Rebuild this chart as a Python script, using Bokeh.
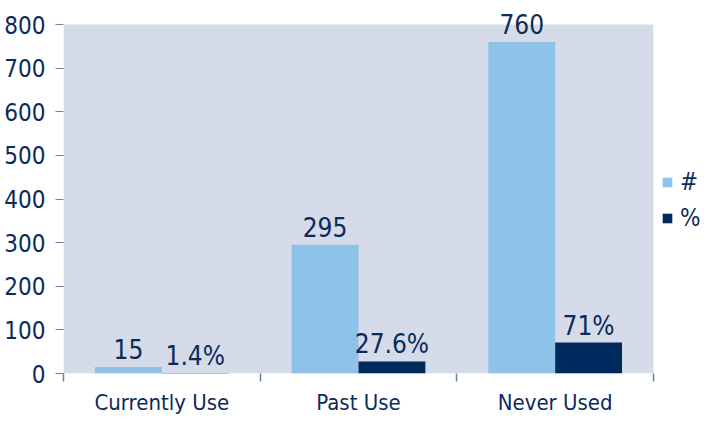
from bokeh.plotting import figure
from bokeh.models import (ColumnDataSource, LabelSet, Legend, LegendItem,
                          FixedTicker)
from bokeh.core.properties import value
from bokeh.embed import file_html
from bokeh.resources import INLINE

categories = ["Currently Use", "Past Use", "Never Used"]
counts = [15, 295, 760]
percents = [1.4, 27.6, 71]
count_labels = ["15", "295", "760"]
percent_labels = ["1.4%", "27.6%", "71%"]
series_names = ["#", "%"]
y_ticks = [0, 100, 200, 300, 400, 500, 600, 700, 800]

FONT = "DejaVu Sans Condensed"
TXT = "#0b2b5b"
LIGHT = "#8fc2e9"
DARK = "#002a5e"
BG = "#d6dbe9"
TICK = "#6a80a2"

n = len(categories)
centers = [i + 0.5 for i in range(n)]
bw = 0.34
y_max = y_ticks[-1]

# geometry: plot area 590 x 349 px, frame extends 16px above and 52px right of it
PA_W, PA_H = 590, 349
FR_W, FR_H = 642, 365
x_end = n * FR_W / PA_W
y_end = y_max * FR_H / PA_H

src_a = ColumnDataSource(dict(x=[c - bw / 2 for c in centers], y=counts, t=count_labels))
src_b = ColumnDataSource(dict(x=[c + bw / 2 for c in centers], y=percents, t=percent_labels))

p = figure(frame_width=FR_W, frame_height=FR_H, x_range=(0, x_end), y_range=(0, y_end),
           output_backend="svg", toolbar_location=None,
           min_border_left=63, min_border_top=8, min_border_right=0, min_border_bottom=0)
p.background_fill_color = "white"
p.border_fill_color = "white"
p.outline_line_color = None
p.grid.grid_line_color = None

p.quad(left=0, right=n, bottom=0, top=y_max, fill_color=BG, line_color=None)

ra = p.vbar(x="x", top="y", width=bw, source=src_a, fill_color=LIGHT, line_color=None)
rb = p.vbar(x="x", top="y", width=bw, source=src_b, fill_color=DARK, line_color=None)

for s in (src_a, src_b):
    p.add_layout(LabelSet(x="x", y="y", text="t", source=s, text_align="center",
                          text_baseline="alphabetic", y_offset=8, text_font=value(FONT),
                          text_font_size="26px", text_color=TXT))

# y axis
p.yaxis.ticker = FixedTicker(ticks=y_ticks, minor_ticks=[])
p.yaxis.axis_line_color = None
p.yaxis.major_tick_in = 0
p.yaxis.major_tick_out = 8
p.yaxis.major_tick_line_color = TICK
p.yaxis.minor_tick_line_color = None
p.yaxis.major_label_text_font = FONT
p.yaxis.major_label_text_font_size = "24px"
p.yaxis.major_label_text_color = TXT
p.yaxis.major_label_standoff = 10

# x axis
p.xaxis.ticker = FixedTicker(ticks=centers, minor_ticks=list(range(n + 1)))
p.xaxis.major_label_overrides = {c: name for c, name in zip(centers, categories)}
p.xaxis.axis_line_color = None
p.xaxis.major_tick_line_color = None
p.xaxis.major_tick_out = 0
p.xaxis.major_tick_in = 0
p.xaxis.minor_tick_in = 0
p.xaxis.minor_tick_out = 8
p.xaxis.minor_tick_line_color = TICK
p.xaxis.minor_tick_line_width = 1.5
p.xaxis.major_label_text_font = FONT
p.xaxis.major_label_text_font_size = "22px"
p.xaxis.major_label_text_color = TXT
p.xaxis.major_label_standoff = 8

legend = Legend(items=[LegendItem(label=series_names[0], renderers=[ra]),
                       LegendItem(label=series_names[1], renderers=[rb])],
                location=(594, 137), background_fill_alpha=0, border_line_alpha=0,
                label_text_font=FONT, label_text_font_size="24px", label_text_color=TXT,
                glyph_width=12, glyph_height=12, spacing=8, padding=4, margin=0,
                label_standoff=7)
p.add_layout(legend)

open("out.html", "w").write(file_html(p, INLINE))
